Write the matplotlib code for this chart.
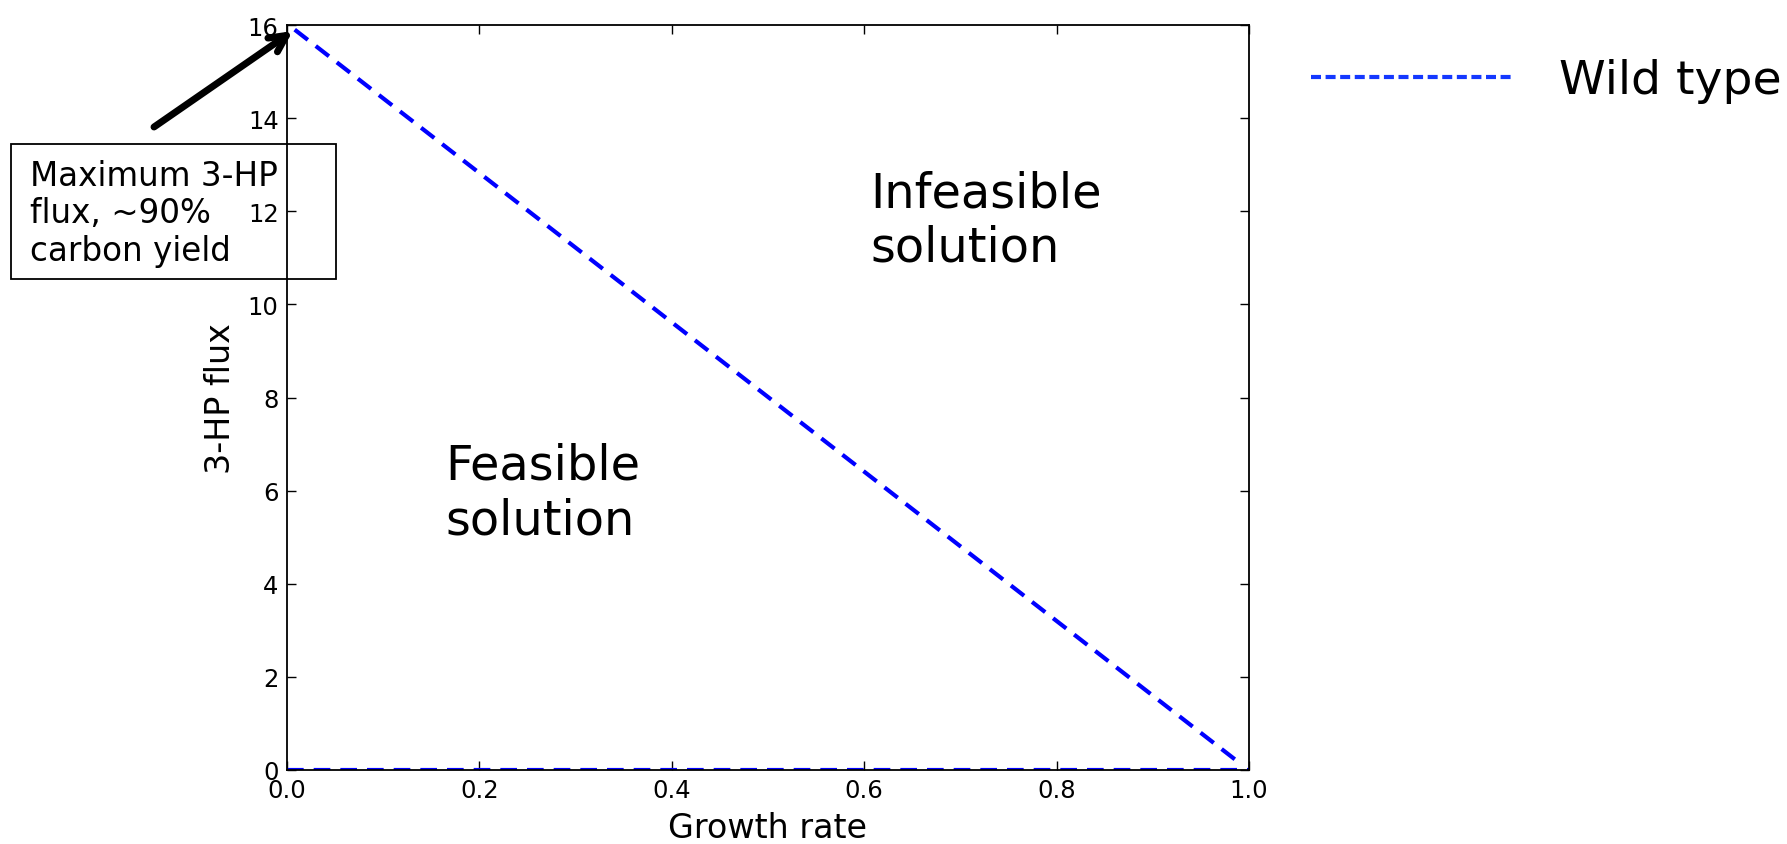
import matplotlib
matplotlib.use("Agg")
import matplotlib.pyplot as plt
from matplotlib.lines import Line2D

# ---- data ----
growth_wt = [0.008, 0.989]
flux_wt = [15.9, 0.17]
growth_lb = [0.0, 1.0]
flux_lb = [0.0, 0.0]
xticks = [0.0, 0.2, 0.4, 0.6, 0.8, 1.0]
yticks = [0, 2, 4, 6, 8, 10, 12, 14, 16]
arrow_tip = (0.006, 15.87)

W, H = 1787, 845
fig = plt.figure(figsize=(W / 100, H / 100), dpi=100)
ax = fig.add_axes([287 / W, 74 / H, 962 / W, 745 / H])

ax.plot(growth_wt, flux_wt, color="#0000ff", lw=3, dashes=(4, 2.4))
ax.plot(growth_lb, flux_lb, color="#0000ff", lw=3, dashes=(4, 2.4))

ax.set_xlim(0, 1)
ax.set_ylim(0, 16)
ax.set_xticks(xticks)
ax.set_xticklabels([f"{v:.1f}" for v in xticks])
ax.set_yticks(yticks)
ax.set_yticklabels([str(v) for v in yticks])
ax.tick_params(direction="in", top=True, right=True, length=6.5, width=1,
               labelsize=17.5, colors="black", pad=6)
for s in ax.spines.values():
    s.set_linewidth(1.3)

ax.set_xlabel("Growth rate", fontsize=24, labelpad=6.5)
ax.set_ylabel("3-HP flux", fontsize=24, labelpad=8)

fig.text(445 / W, 1 - 443 / H, "Feasible\nsolution", fontsize=34.5,
         va="top", ha="left", linespacing=1.2)
fig.text(870 / W, 1 - 170 / H, "Infeasible\nsolution", fontsize=34.5,
         va="top", ha="left", linespacing=1.2)

# annotation box with arrow
ax.annotate("", xy=arrow_tip, xycoords="data",
            xytext=(154 / W, 1 - 128 / H), textcoords="figure fraction",
            arrowprops=dict(arrowstyle="->", lw=5, color="black",
                            mutation_scale=30, shrinkA=0, shrinkB=0),
            annotation_clip=False)

box = plt.Rectangle((11 / W, 1 - 280 / H), 325 / W, 135 / H,
                    transform=fig.transFigure, facecolor="none",
                    edgecolor="black", lw=1.3, zorder=0.5)
fig.add_artist(box)
fig.text(30 / W, 1 - 160 / H, "Maximum 3-HP\nflux, ~90%\ncarbon yield",
         fontsize=23.5, va="top", ha="left", linespacing=1.17, zorder=1)

# legend outside
handle = Line2D([], [], color="#1438ff", lw=3, dashes=(2.4, 1.1))
fig.legend(handles=[handle], labels=["Wild type"], loc="center left",
           bbox_to_anchor=(1311 / W, 1 - 82 / H), frameon=False,
           fontsize=34, handlelength=4.32, handletextpad=0.93,
           borderpad=0, borderaxespad=0)

fig.savefig("out.png", dpi=100)
